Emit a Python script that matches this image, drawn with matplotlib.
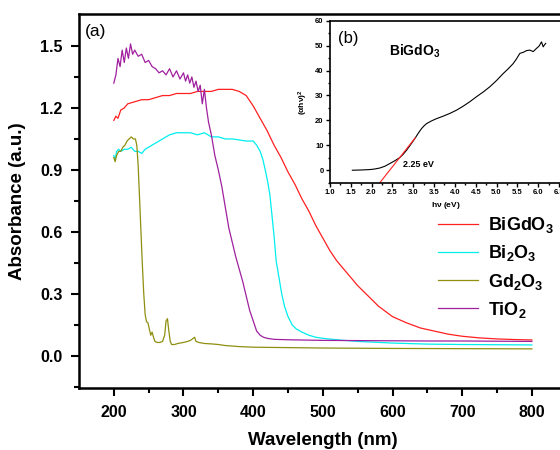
import numpy as np
import matplotlib
matplotlib.use('Agg')
from matplotlib import pyplot as plt

plt.rcParams['font.family'] = ['Liberation Sans', 'DejaVu Sans']
plt.rcParams['mathtext.fontset'] = 'custom'
plt.rcParams['mathtext.rm'] = 'Liberation Sans:bold'
plt.rcParams['mathtext.it'] = 'Liberation Sans:bold'
plt.rcParams['mathtext.bf'] = 'Liberation Sans:bold'

# main panel (a): absorbance spectra
wl_bigdo3 = [200, 203, 206, 210, 215, 220, 230, 240, 250, 260, 270, 280, 290, 300, 310, 320, 330, 340, 350,
             360, 370, 380, 390, 400, 410, 420, 430, 440, 450, 460, 470, 480, 490, 500, 510, 520, 535, 550,
             565, 580, 600, 620, 640, 660, 680, 700, 725, 750, 775, 800]
ab_bigdo3 = [1.14, 1.16, 1.15, 1.19, 1.20, 1.22, 1.23, 1.24, 1.24, 1.25, 1.26, 1.26, 1.27, 1.27, 1.27, 1.28,
             1.28, 1.28, 1.29, 1.29, 1.29, 1.28, 1.26, 1.21, 1.15, 1.09, 1.02, 0.96, 0.89, 0.83, 0.76, 0.70,
             0.63, 0.57, 0.51, 0.46, 0.40, 0.34, 0.29, 0.24, 0.19, 0.16, 0.135, 0.12, 0.105, 0.095, 0.087,
             0.082, 0.079, 0.077]

wl_bi2o3 = [200, 202, 204, 207, 210, 215, 220, 225, 230, 235, 240, 245, 250, 260, 270, 280, 290, 300, 310,
            320, 330, 340, 350, 360, 370, 380, 390, 400, 405, 410, 414, 418, 421, 424, 427, 430, 433, 437,
            441, 445, 450, 456, 462, 470, 480, 490, 500, 520, 550, 600, 650, 700, 750, 800]
ab_bi2o3 = [0.97, 0.95, 0.99, 1.00, 0.99, 1.00, 1.00, 1.01, 0.99, 0.99, 0.98, 1.00, 1.01, 1.03, 1.05, 1.07,
            1.08, 1.08, 1.08, 1.07, 1.08, 1.06, 1.06, 1.05, 1.05, 1.045, 1.04, 1.04, 1.02, 0.99, 0.95, 0.89,
            0.84, 0.78, 0.68, 0.58, 0.46, 0.38, 0.30, 0.24, 0.19, 0.15, 0.13, 0.115, 0.10, 0.09, 0.085,
            0.078, 0.07, 0.062, 0.057, 0.055, 0.054, 0.053]

wl_gd2o3 = [200, 202, 204, 207, 210, 213, 216, 219, 222, 225, 228, 231, 233, 235, 237, 239, 241, 243, 245,
            247, 249, 251, 253, 255, 257, 259, 262, 266, 270, 273, 275, 277, 279, 281, 283, 287, 292, 300,
            306, 310, 314, 316, 318, 322, 330, 340, 350, 360, 380, 400, 450, 500, 600, 700, 800]
ab_gd2o3 = [0.96, 0.94, 0.97, 0.99, 0.99, 1.01, 1.02, 1.04, 1.05, 1.06, 1.05, 1.05, 1.02, 0.92, 0.76, 0.60,
            0.44, 0.30, 0.20, 0.165, 0.16, 0.13, 0.10, 0.115, 0.09, 0.07, 0.065, 0.065, 0.07, 0.10, 0.17,
            0.18, 0.12, 0.07, 0.055, 0.055, 0.06, 0.065, 0.07, 0.075, 0.085, 0.09, 0.07, 0.065, 0.06, 0.058,
            0.055, 0.05, 0.045, 0.042, 0.04, 0.038, 0.036, 0.035, 0.034]

wl_tio2 = [200, 203, 206, 209, 212, 215, 218, 221, 224, 227, 230, 235, 240, 245, 250, 255, 260, 265, 270,
           275, 280, 285, 290, 295, 300, 303, 306, 309, 312, 315, 318, 321, 324, 327, 330, 333, 336, 340,
           345, 350, 355, 360, 365, 370, 375, 380, 385, 390, 395, 400, 405, 410, 415, 420, 430, 450, 500,
           550, 600, 650, 700, 750, 800]
ab_tio2 = [1.32, 1.36, 1.44, 1.40, 1.48, 1.42, 1.49, 1.44, 1.51, 1.46, 1.48, 1.45, 1.46, 1.42, 1.43, 1.40,
           1.39, 1.37, 1.38, 1.36, 1.39, 1.35, 1.38, 1.34, 1.37, 1.33, 1.36, 1.32, 1.35, 1.30, 1.33, 1.28,
           1.31, 1.22, 1.29, 1.20, 1.13, 1.07, 0.97, 0.90, 0.82, 0.72, 0.62, 0.55, 0.48, 0.42, 0.36, 0.29,
           0.22, 0.17, 0.12, 0.10, 0.09, 0.085, 0.08, 0.078, 0.075, 0.074, 0.073, 0.072, 0.072, 0.071, 0.070]

labels = ['BiGdO$_3$', 'Bi$_2$O$_3$', 'Gd$_2$O$_3$', 'TiO$_2$']
colors = ['#ff2020', '#00eeee', '#8f8f10', '#a0209f']

# inset (b): Tauc plot
hv = [1.54, 1.75, 1.96, 2.08, 2.2, 2.32, 2.44, 2.56, 2.68, 2.76, 2.84, 2.94, 3.04, 3.12, 3.2, 3.26, 3.32,
      3.44, 3.56, 3.72, 3.88, 4.04, 4.2, 4.36, 4.52, 4.68, 4.84, 5.0, 5.16, 5.28, 5.4, 5.48, 5.56, 5.64,
      5.72, 5.8, 5.88, 5.96, 6.02, 6.08, 6.12, 6.15, 6.18]
ahv2 = [0.0, 0.1, 0.27, 0.5, 0.9, 1.6, 2.7, 3.8, 5.1, 6.4, 8.0, 10.3, 12.7, 14.8, 16.7, 17.8, 18.7, 19.8,
        20.7, 21.7, 22.8, 24.1, 25.7, 27.5, 29.5, 31.4, 33.5, 36.0, 38.8, 40.7, 42.8, 44.7, 46.9, 47.3,
        48.0, 48.2, 47.6, 48.9, 49.8, 51.5, 49.5, 50.3, 50.9]
fit_hv = [2.2, 3.05]
fit_y = [-5, 13]

fig = plt.figure(figsize=(5.6, 4.5), dpi=100)
ax = fig.add_axes([0.141, 0.138, 0.871, 0.831])

series = [(wl_bigdo3, ab_bigdo3), (wl_bi2o3, ab_bi2o3), (wl_gd2o3, ab_gd2o3), (wl_tio2, ab_tio2)]
for (x, y), lab, c in zip(series, labels, colors):
    ax.plot(x, y, color=c, lw=0.9, label=lab)

ax.set_xlim(150, 850)
ax.set_ylim(-0.155, 1.655)
ax.set_xticks([200, 300, 400, 500, 600, 700, 800])
ax.set_xticks(np.arange(250, 850, 100), minor=True)
ax.set_yticks([0.0, 0.3, 0.6, 0.9, 1.2, 1.5])
ax.set_yticks(np.arange(-0.15, 1.6, 0.3), minor=True)
ax.set_yticklabels(['0.0', '0.3', '0.6', '0.9', '1.2', '1.5'])
ax.tick_params(which='major', direction='out', length=6, width=1.5, labelsize=11.5, pad=6)
ax.tick_params(which='minor', direction='out', length=3.5, width=1.5)
for lab in ax.get_xticklabels() + ax.get_yticklabels():
    lab.set_fontweight('bold')
for s in ax.spines.values():
    s.set_linewidth(1.8)
ax.set_xlabel('Wavelength (nm)', fontsize=13.5, fontweight='bold', labelpad=9)
ax.set_ylabel('Absorbance (a.u.)', fontsize=13.5, fontweight='bold', labelpad=10)
ax.text(159, 1.55, '(a)', fontsize=12.5)

leg = ax.legend(loc='upper left', bbox_to_anchor=(0.703, 0.505), frameon=False, fontsize=13,
                handlelength=2.2, handletextpad=0.55, labelspacing=0.45)
for t in leg.get_texts():
    t.set_fontweight('bold')

# inset
axi = fig.add_axes([0.589, 0.594, 0.413, 0.360])
axi.plot(hv, ahv2, color='black', lw=0.8)
axi.plot(fit_hv, fit_y, color='#ff2020', lw=0.8)
axi.set_xlim(1.0, 6.55)
axi.set_ylim(-5, 60)
axi.set_xticks(np.arange(1.0, 6.51, 0.5))
axi.set_xticks(np.arange(1.25, 6.5, 0.5), minor=True)
axi.set_yticks(np.arange(0, 61, 10))
axi.set_yticks(np.arange(-5, 60, 10), minor=True)
axi.tick_params(which='major', direction='out', length=3, width=1, labelsize=5.5, pad=1.5)
axi.tick_params(which='minor', direction='out', length=1.5, width=1)
for lab in axi.get_xticklabels() + axi.get_yticklabels():
    lab.set_fontweight('bold')
for s in axi.spines.values():
    s.set_linewidth(1.2)
axi.set_xlabel(r'h$\nu$ (eV)', fontsize=6, fontweight='bold', labelpad=3)
axi.set_ylabel(r'($\alpha$h$\nu$)$^2$', fontsize=6, fontweight='bold', labelpad=4)
axi.text(1.2, 51, '(b)', fontsize=12)
axi.text(2.42, 46, 'BiGdO$_3$', fontsize=10, fontweight='bold')
axi.text(2.76, 1.2, '2.25 eV', fontsize=6.5, fontweight='bold')

plt.savefig('out.png', dpi=100)
